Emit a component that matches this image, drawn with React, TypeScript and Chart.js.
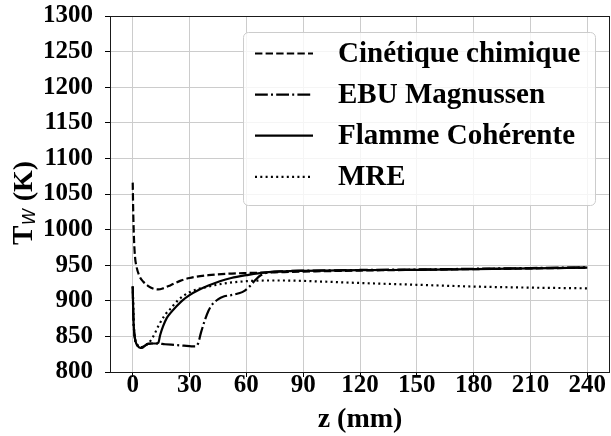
import React, { useEffect, useRef } from "react";
import { Chart, registerables } from "chart.js";

Chart.register(...registerables);

// ---- data ----
const xTickValues = [0, 30, 60, 90, 120, 150, 180, 210, 240];
const yTickValues = [800, 850, 900, 950, 1000, 1050, 1100, 1150, 1200, 1250, 1300];

const seriesLabels = ["Cinétique chimique", "EBU Magnussen", "Flamme Cohérente", "MRE"];

const zCinetique = [0, 0.3, 0.7, 1.2, 2, 3.5, 5.5, 8, 11, 13.5, 16, 20, 25, 30, 40, 50, 60, 75, 90, 120, 150, 180, 210, 240];
const tCinetique = [1066, 1020, 985, 962, 948, 935, 927, 921, 917, 916, 917.5, 922, 928, 932, 936, 938, 939, 940, 941, 942.5, 943.5, 944.5, 945.5, 946.5];

const zEBU = [0, 0.3, 0.8, 1.5, 2.5, 4, 5, 6.5, 8, 10, 13, 17, 22, 27, 31, 33, 34.5, 36, 38, 40, 42, 45, 48, 52, 56, 59, 62, 65, 68, 72, 80, 90, 120, 150, 180, 210, 240];
const tEBU = [920, 880, 855, 843, 837, 835, 835, 837, 839.5, 840, 840, 839, 838, 837, 836, 836, 840, 855, 872, 886, 895, 902, 906, 908, 910.5, 914, 921, 930, 936.5, 940, 941.5, 942.3, 943.3, 944, 945, 946, 947];

const zFlamme = [0, 0.3, 0.8, 1.5, 2.5, 4, 5, 6.5, 8, 10, 12.5, 13.5, 14.5, 16, 18, 20, 23, 26, 30, 35, 40, 46, 52, 60, 70, 80, 90, 120, 150, 180, 210, 240];
const tFlamme = [920, 880, 855, 843, 837, 834, 834, 837, 839.5, 840, 840, 841, 852, 864, 876, 883, 892, 900, 908, 915.5, 921.5, 927.5, 932, 936, 940, 941.5, 942, 943, 943.5, 944.5, 945.5, 946.5];

const zMRE = [0, 0.8, 2.5, 4, 6, 8, 10, 12, 14, 17, 20, 24, 30, 40, 50, 60, 70, 80, 100, 120, 150, 180, 210, 240];
const tMRE = [920, 855, 838, 835, 836, 840, 846, 856, 867, 880, 889, 901, 912, 920, 925, 927.5, 928.5, 928.5, 927, 925, 922.5, 920, 918.5, 917.5];

const seriesDash = [[7.4, 3.2], [12.8, 3.2, 2, 3.2], [], [2, 3.3]];

const FONT = '"Liberation Serif", "Times New Roman", serif';

function toPoints(zs: number[], ts: number[]) {
  return zs.map((z, i) => ({ x: z, y: ts[i] }));
}

const decorPlugin = {
  id: "decor",
  afterDraw(chart: any) {
    const { ctx, chartArea } = chart;
    const { left, right, top, bottom } = chartArea;
    ctx.save();
    // spines
    ctx.strokeStyle = "#1a1a1a";
    ctx.lineWidth = 1;
    ctx.setLineDash([]);
    ctx.strokeRect(left + 0.5, top + 0.5, right - left - 1, bottom - top);

    // legend
    const lx = 243, ly = 32, lw = right - 15 - 243, lh = 173;
    ctx.beginPath();
    (ctx as any).roundRect(lx + 0.5, ly + 0.5, lw, lh, 5);
    ctx.fillStyle = "rgba(255,255,255,0.8)";
    ctx.fill();
    ctx.strokeStyle = "#cccccc";
    ctx.lineWidth = 1;
    ctx.stroke();

    const ds = chart.data.datasets;
    for (let i = 0; i < ds.length; i++) {
      const y = 53.5 + i * 41.1;
      ctx.beginPath();
      ctx.setLineDash(ds[i].borderDash || []);
      ctx.lineWidth = 2.2;
      ctx.strokeStyle = "#000";
      ctx.lineCap = "butt";
      ctx.moveTo(255, y);
      ctx.lineTo(313, y);
      ctx.stroke();
      ctx.setLineDash([]);
      ctx.fillStyle = "#000";
      ctx.font = `bold 29px ${FONT}`;
      ctx.textBaseline = "middle";
      ctx.textAlign = "left";
      ctx.fillText(ds[i].label, 338, y + 1);
    }

    // x title
    ctx.fillStyle = "#000";
    ctx.font = `bold 28px ${FONT}`;
    ctx.textAlign = "center";
    ctx.textBaseline = "alphabetic";
    ctx.fillText("z (mm)", (left + right) / 2, 427);

    // y title with subscript
    ctx.save();
    ctx.translate(32, 245);
    ctx.rotate(-Math.PI / 2);
    ctx.textAlign = "left";
    ctx.textBaseline = "alphabetic";
    ctx.font = `bold 29px ${FONT}`;
    ctx.fillText("T", 0, 0);
    let u = ctx.measureText("T").width + 0.5;
    ctx.font = `italic 17px "DejaVu Sans"`;
    ctx.fillText("W", u, 3);
    u += ctx.measureText("W").width;
    ctx.font = `bold 28px ${FONT}`;
    ctx.fillText(" (K)", u, 0);
    ctx.restore();

    ctx.restore();
  },
};

function zeroPad(s: any) {
  s.paddingTop = 0;
  s.paddingBottom = 0;
  s.paddingLeft = 0;
  s.paddingRight = 0;
}

export default function App() {
  const ref = useRef<HTMLCanvasElement>(null);
  useEffect(() => {
    const canvas = ref.current!;
    const series = [
      toPoints(zCinetique, tCinetique),
      toPoints(zEBU, tEBU),
      toPoints(zFlamme, tFlamme),
      toPoints(zMRE, tMRE),
    ];
    const chart = new Chart(canvas, {
      type: "line",
      data: {
        datasets: series.map((pts, i) => ({
          label: seriesLabels[i],
          data: pts,
          borderColor: "#000",
          borderWidth: 2.2,
          borderDash: seriesDash[i],
          pointRadius: 0,
          fill: false,
          cubicInterpolationMode: "monotone" as const,
        })),
      },
      options: {
        responsive: false,
        animation: false,
        layout: { padding: { left: 0, right: 1, top: 16, bottom: 0 } },
        plugins: { legend: { display: false }, tooltip: { enabled: false } },
        scales: {
          x: {
            type: "linear",
            min: -12,
            max: 252,
            afterBuildTicks: (s: any) => {
              s.ticks = xTickValues.map((v) => ({ value: v }));
            },
            afterFit: (s: any) => {
              s.height = 64;
              zeroPad(s);
            },
            grid: { color: "#cccccc", lineWidth: 1, tickColor: "#000", tickLength: 5 },
            border: { display: false },
            ticks: {
              color: "#000",
              font: { family: FONT, weight: "bold", size: 25, lineHeight: 1 },
              padding: -3.5,
              maxRotation: 0,
              autoSkip: false,
              callback: (v: any) => String(v),
            },
          },
          y: {
            type: "linear",
            min: 800,
            max: 1300,
            afterBuildTicks: (s: any) => {
              s.ticks = yTickValues.map((v) => ({ value: v }));
            },
            afterFit: (s: any) => {
              s.width = 110;
              zeroPad(s);
            },
            grid: { color: "#cccccc", lineWidth: 1, tickColor: "#000", tickLength: 5 },
            border: { display: false },
            ticks: {
              color: "#000",
              font: { family: FONT, weight: "bold", size: 25, lineHeight: 1 },
              padding: 12,
              autoSkip: false,
              callback: (v: any) => String(v),
            },
          },
        },
      },
      plugins: [decorPlugin],
    } as any);
    return () => chart.destroy();
  }, []);
  return (
    <div style={{ position: "fixed", left: 0, top: 0, width: 611, height: 436, background: "#fff" }}>
      <canvas ref={ref} width={611} height={436} style={{ display: "block" }} />
    </div>
  );
}
